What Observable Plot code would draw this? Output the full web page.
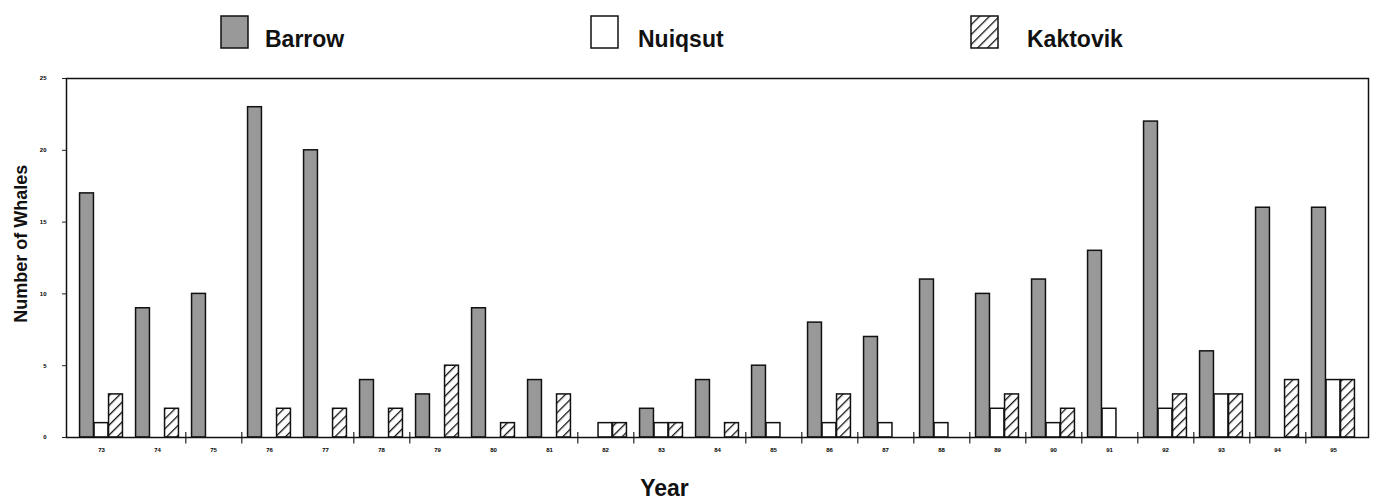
<!DOCTYPE html>
<html>
<head>
<meta charset="utf-8">
<script src="https://cdn.jsdelivr.net/npm/d3@7"></script>
<script src="https://cdn.jsdelivr.net/npm/@observablehq/plot@0.6"></script>
<style>
  html, body { margin: 0; padding: 0; background: #fff; }
  #wrap { position: relative; width: 1377px; height: 504px; font-family: "Liberation Sans", Arial, sans-serif; }
  #legend { position: relative; width: 1377px; height: 68px; }
  .sw { position: absolute; top: 15px; }
  .lab { position: absolute; top: 26px; font-size: 23px; font-weight: bold; color: #111; line-height: 26px; }
</style>
</head>
<body>
<div id="wrap">
  <div id="legend"></div>
  <div id="chart"></div>
</div>
<script>
// ---- data ----
const years = ["73","74","75","76","77","78","79","80","81","82","83","84","85","86","87","88","89","90","91","92","93","94","95"];
const barrow   = [17, 9, 10, 23, 20, 4, 3, 9, 4, 0, 2, 4, 5, 8, 7, 11, 10, 11, 13, 22, 6, 16, 16];
const nuiqsut  = [1, 0, 0, 0, 0, 0, 0, 0, 0, 1, 1, 0, 1, 1, 1, 1, 2, 1, 2, 2, 3, 0, 4];
const kaktovik = [3, 2, 0, 2, 2, 2, 5, 1, 3, 1, 1, 1, 0, 3, 0, 0, 3, 2, 0, 3, 3, 4, 4];
const seriesNames = ["Barrow", "Nuiqsut", "Kaktovik"];
const yTicks = [0, 5, 10, 15, 20, 25];
const boundaryAfter = ["74","75","77","78","81","82","84","85","86","87","88","89","90","91","92","93","94"];

const rows = years.map((y, i) => ({year: y, barrow: barrow[i], nuiqsut: nuiqsut[i], kaktovik: kaktovik[i]}));

// ---- layout ----
const W = 1377, H = 436;
const mL = 66, mR = 9, mT = 10, mB = 67;
const bw = (W - mL - mR) / years.length;
const barW = 14.5;
const off = (bw - 3 * barW) / 2;

const hatchFill = "url(#hatch)";

const chart = Plot.plot({
  width: W,
  height: H,
  marginLeft: mL, marginRight: mR, marginTop: mT, marginBottom: mB,
  style: {background: "#fff", fontFamily: "'Liberation Sans', Arial, sans-serif", overflow: "visible"},
  x: {type: "band", domain: years, padding: 0, axis: null},
  y: {domain: [0, 25], axis: null},
  marks: [
    Plot.axisY({ticks: yTicks, tickSize: 4, tickPadding: 16, fontSize: 6, fontWeight: "bold", label: null, stroke: "#222"}),
    Plot.axisX({tickSize: 0, tickPadding: 10, fontSize: 6, fontWeight: "bold", label: null}),
    Plot.barY(rows.filter(d => d.barrow > 0), {x: "year", y: "barrow", fill: "#999", stroke: "#111", strokeWidth: 1.5,
      insetLeft: off, insetRight: bw - off - barW}),
    Plot.barY(rows.filter(d => d.nuiqsut > 0), {x: "year", y: "nuiqsut", fill: "#fff", stroke: "#111", strokeWidth: 1.5,
      insetLeft: off + barW, insetRight: off + barW}),
    Plot.barY(rows.filter(d => d.kaktovik > 0), {x: "year", y: "kaktovik", fill: hatchFill, stroke: "#111", strokeWidth: 1.5,
      insetLeft: off + 2 * barW, insetRight: off}),
    Plot.ruleX(boundaryAfter, {x: d => d, dx: bw / 2, y1: -0.45, y2: 0.35, stroke: "#222", strokeWidth: 1.2}),
    Plot.frame({stroke: "#111", strokeWidth: 1.5}),
    Plot.text(["Year"], {frameAnchor: "bottom", dy: 51, dx: -53, lineAnchor: "middle", textAnchor: "middle", fontSize: 23, fontWeight: "bold", fill: "#111"}),
    Plot.text(["Number of Whales"], {frameAnchor: "left", y: [13.5], dx: -45, rotate: -90, textAnchor: "middle", lineAnchor: "middle", fontSize: 18, fontWeight: "bold", fill: "#111"})
  ]
});

// hatch pattern definition
const svg = d3.select(chart);
const defs = svg.insert("defs", ":first-child");
const pat = defs.append("pattern").attr("id", "hatch").attr("patternUnits", "userSpaceOnUse")
  .attr("width", 7).attr("height", 7).attr("patternTransform", "rotate(45)");
pat.append("rect").attr("width", 7).attr("height", 7).attr("fill", "#fff");
pat.append("line").attr("x1", 0).attr("y1", 0).attr("x2", 0).attr("y2", 7).attr("stroke", "#111").attr("stroke-width", 2.6);

document.getElementById("chart").appendChild(chart);

// ---- legend ----
const legend = document.getElementById("legend");
const legendPos = [{sx: 220, tx: 265}, {sx: 590, tx: 638}, {sx: 970, tx: 1027}];
const legendFill = ["#999", "#fff", "url(#hatchL)"];
seriesNames.forEach((name, i) => {
  const s = document.createElementNS("http://www.w3.org/2000/svg", "svg");
  s.setAttribute("class", "sw");
  s.setAttribute("width", 32); s.setAttribute("height", 36);
  s.style.left = legendPos[i].sx + "px";
  s.innerHTML = (i === 2 ? '<defs><pattern id="hatchL" patternUnits="userSpaceOnUse" width="7" height="7" patternTransform="rotate(45)"><rect width="7" height="7" fill="#fff"/><line x1="0" y1="0" x2="0" y2="7" stroke="#111" stroke-width="2.6"/></pattern></defs>' : '') +
    `<rect x="1" y="1" width="27" height="32" fill="${legendFill[i]}" stroke="#111" stroke-width="1.5"/>`;
  legend.appendChild(s);
  const t = document.createElement("div");
  t.className = "lab";
  t.style.left = legendPos[i].tx + "px";
  t.textContent = name;
  legend.appendChild(t);
});
</script>
</body>
</html>
